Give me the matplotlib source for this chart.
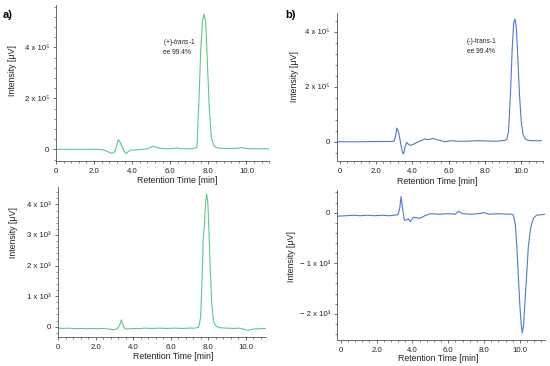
import matplotlib
matplotlib.use("Agg")
import matplotlib.pyplot as plt
import numpy as np
from matplotlib.ticker import MultipleLocator, AutoMinorLocator, FuncFormatter

plt.rcParams['font.family'] = ['Liberation Sans', 'DejaVu Sans']
plt.rcParams['mathtext.fontset'] = 'custom'
plt.rcParams['mathtext.rm'] = 'Liberation Sans'
plt.rcParams['mathtext.it'] = 'Liberation Sans:italic'

GREEN = '#5cc98a'
BLUE = '#4f78d6'
GREY = '#555555'
TEXT = '#222222'

# panel a) top: (+)-trans-1, intensity in units of 1e5 uV
tl_time = [0, 0.5, 1.0, 1.5, 2.0, 2.4, 2.6, 2.8, 2.95, 3.1, 3.2, 3.27, 3.35, 3.5,
           3.6, 3.7, 3.8, 3.95, 4.3, 4.8, 5.1, 5.4, 5.8, 6.2, 6.3, 6.5, 7.0, 7.3,
           7.4, 7.5, 7.6, 7.7, 7.78, 7.86, 7.95, 8.05, 8.15, 8.3, 8.5, 9.0, 9.5,
           9.75, 10.0, 10.5, 11.2]
tl_signal = [0, 0, 0, 0, 0, -0.01, -0.05, -0.12, -0.16, -0.08, 0.2, 0.38, 0.3, 0.05,
             -0.1, -0.18, -0.08, -0.03, -0.02, 0.02, 0.12, 0.05, 0.02, 0.03, 0.06, 0.03, 0.02, 0.04,
             0.1, 1.8, 3.9, 5.1, 5.3, 5.0, 3.4, 1.6, 0.5, 0.12, 0.05, 0.03, 0.04,
             0.07, 0.03, 0.02, 0.02]

# panel a) bottom: intensity in units of 1e3 uV
bl_time = [0, 0.3, 0.6, 0.9, 1.2, 1.5, 1.8, 2.1, 2.4, 2.7, 2.95, 3.15, 3.28, 3.37, 3.46,
           3.55, 3.7, 4.0, 4.3, 4.6, 5.0, 5.4, 5.8, 6.2, 6.6, 7.0, 7.3, 7.5, 7.6, 7.68,
           7.74, 7.8, 7.86, 7.92, 7.98, 8.05, 8.12, 8.2, 8.3, 8.45, 8.7, 9.0, 9.4, 9.7,
           10.0, 10.15, 10.4, 10.7, 11.0, 11.07]
bl_signal = [-0.05, -0.06, -0.05, -0.07, -0.06, -0.07, -0.06, -0.07, -0.06, -0.08, -0.1, -0.07, 0.05, 0.22, 0.05,
             -0.07, -0.08, -0.06, -0.07, -0.05, -0.06, -0.05, -0.06, -0.05, -0.06, -0.05, -0.05, -0.02, 0.3, 1.6,
             2.9, 3.3, 4.0, 4.34, 4.1, 3.1, 1.8, 0.7, 0.15, 0.0, -0.04, -0.05, -0.06, -0.05,
             -0.1, -0.12, -0.08, -0.07, -0.06, -0.06]

# panel b) top: (-)-trans-1, units of 1e5 uV
tr_time = [-0.15, 1.0, 2.0, 2.8, 3.0, 3.08, 3.15, 3.25, 3.35, 3.45, 3.52, 3.6, 3.7, 3.8,
           3.9, 4.1, 4.4, 4.7, 4.9, 5.15, 5.4, 5.8, 6.15, 6.5, 7.0, 7.6, 8.0, 8.6, 9.1,
           9.2, 9.3, 9.4, 9.5, 9.58, 9.65, 9.72, 9.8, 9.9, 10.0, 10.1, 10.25, 10.5, 11.1]
tr_signal = [0.0, 0.0, 0.01, 0.01, 0.02, 0.2, 0.5, 0.35, 0.0, -0.35, -0.45, -0.2, -0.02, -0.1,
             -0.13, -0.08, 0.02, 0.1, 0.08, 0.12, 0.07, 0.0, 0.04, 0.02, 0.02, 0.04, 0.03, 0.02, 0.05,
             0.08, 0.4, 1.7, 3.4, 4.3, 4.46, 4.2, 3.2, 1.7, 0.7, 0.25, 0.08, 0.04, 0.04]

# panel b) bottom: units of 1e3 uV
br_time = [-0.2, 0.3, 0.7, 1.1, 1.5, 1.9, 2.3, 2.7, 3.0, 3.2, 3.3, 3.37, 3.45, 3.55, 3.68,
           3.78, 3.87, 4.06, 4.25, 4.43, 4.7, 5.0, 5.5, 6.0, 6.4, 6.57, 6.8, 7.3, 7.7,
           7.97, 8.3, 8.8, 9.3, 9.55, 9.64, 9.75, 9.83, 9.92, 10.0, 10.07, 10.13, 10.2,
           10.3, 10.4, 10.47, 10.6, 10.75, 10.93, 11.2, 11.4]
br_signal = [-0.07, -0.06, -0.05, -0.06, -0.05, -0.06, -0.05, -0.06, -0.05, -0.04, 0.1, 0.32, 0.1, -0.15, -0.14,
             -0.12, -0.18, -0.09, -0.1, -0.11, -0.06, -0.02, -0.03, -0.02, -0.03, 0.03, -0.02, -0.03, -0.02,
             0.0, -0.03, -0.02, -0.03, -0.03, -0.05, -0.25, -0.67, -1.3, -1.85, -2.2, -2.38, -2.25,
             -1.66, -1.1, -0.67, -0.3, -0.11, -0.05, -0.04, -0.03]


def sci_formatter(exp):
    sup = {3: '\u00b3', 5: '\u2075'}[exp]

    def fmt(v, pos):
        n = int(round(v / 10 ** exp))
        if n == 0:
            return '0'
        sign = '\u2212 ' if n < 0 else ''
        return f'{sign}{abs(n)} x 10{sup}'
    return FuncFormatter(fmt)


def style_axes(ax, exp, ymajor, xlim, ylim):
    for s in ['top', 'right']:
        ax.spines[s].set_visible(False)
    for s in ['left', 'bottom']:
        ax.spines[s].set_color(GREY)
        ax.spines[s].set_linewidth(0.6)
    ax.set_xlim(*xlim)
    ax.set_ylim(*ylim)
    ax.xaxis.set_major_locator(MultipleLocator(2))
    ax.xaxis.set_minor_locator(AutoMinorLocator(5))
    ax.xaxis.set_major_formatter(FuncFormatter(lambda v, p: '0' if v == 0 else f'{v:.1f}'))
    ax.yaxis.set_major_locator(MultipleLocator(ymajor))
    ax.yaxis.set_minor_locator(AutoMinorLocator(5))
    ax.yaxis.set_major_formatter(sci_formatter(exp))
    ax.tick_params(which='major', direction='out', length=2.5, width=0.6, color=GREY,
                   labelsize=5.6, labelcolor=TEXT, pad=2.5)
    ax.tick_params(which='minor', direction='out', length=1.3, width=0.5, color=GREY)
    ax.set_xlabel('Retention Time [min]', fontsize=6.3, color=TEXT)
    ax.set_ylabel('Intensity [\u03bcV]', fontsize=6.3, color=TEXT)


fig = plt.figure(figsize=(5.5, 3.66), dpi=100)

ax_tl = fig.add_axes([0.1018, 0.560, 0.3878, 0.426])
ax_tr = fig.add_axes([0.612, 0.560, 0.3755, 0.4036])
ax_bl = fig.add_axes([0.1049, 0.0784, 0.378, 0.4115])
ax_br = fig.add_axes([0.6122, 0.071, 0.3787, 0.41])

ax_tl.plot(tl_time, np.array(tl_signal) * 1e5, color=GREEN, lw=0.8)
style_axes(ax_tl, 5, 2e5, (0.0, 11.2), (-0.46e5, 5.66e5))
ax_tl.xaxis.set_label_coords(0.567, -0.098)
ax_tl.yaxis.set_label_coords(-0.185, 0.583)
ax_tl.text(0.502, 0.763, '(+)-$\\it{trans}$-1', transform=ax_tl.transAxes,
           fontsize=4.8, color=TEXT, va='center', ha='left')
ax_tl.text(0.502, 0.699, 'ee 99.4%', transform=ax_tl.transAxes,
           fontsize=4.8, color=TEXT, va='center', ha='left')

ax_tr.plot(tr_time, np.array(tr_signal) * 1e5, color=BLUE, lw=0.8)
style_axes(ax_tr, 5, 2e5, (-0.16, 11.2), (-0.70e5, 4.67e5))
ax_tr.xaxis.set_label_coords(0.485, -0.108)
ax_tr.yaxis.set_label_coords(-0.18, 0.569)
ax_tr.text(0.63, 0.808, '(-)-trans-1', transform=ax_tr.transAxes,
           fontsize=4.8, color=TEXT, va='center', ha='left')
ax_tr.text(0.63, 0.74, 'ee 99.4%', transform=ax_tr.transAxes,
           fontsize=4.8, color=TEXT, va='center', ha='left')

ax_bl.plot(bl_time, np.array(bl_signal) * 1e3, color=GREEN, lw=0.8)
style_axes(ax_bl, 3, 1e3, (-0.03, 11.07), (-0.35e3, 4.58e3))
ax_bl.xaxis.set_label_coords(0.554, -0.098)
ax_bl.yaxis.set_label_coords(-0.193, 0.693)

ax_br.plot(br_time, np.array(br_signal) * 1e3, color=BLUE, lw=0.8)
style_axes(ax_br, 3, 1e3, (-0.22, 11.4), (-2.52e3, 0.45e3))
ax_br.xaxis.set_label_coords(0.488, -0.092)
ax_br.yaxis.set_label_coords(-0.195, 0.553)

fig.text(3 / 550, 1 - 15 / 366, 'a)', fontsize=8, fontweight='bold', va='center', ha='left')
fig.text(285 / 550, 1 - 15 / 366, 'b)', fontsize=8, fontweight='bold', va='center', ha='left')

fig.savefig('out.png', dpi=100)
